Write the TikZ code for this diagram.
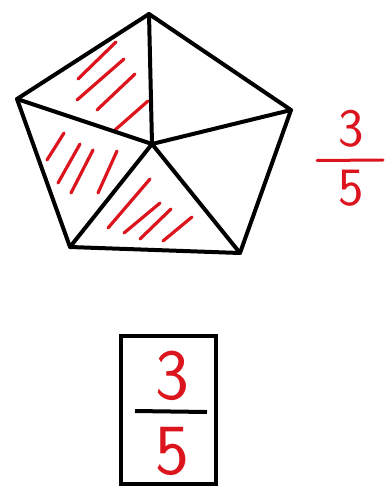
\documentclass[tikz,border=0pt]{standalone}
\usepackage{tikz}
\usetikzlibrary{positioning, calc}
\definecolor{penred}{RGB}{220, 20, 30}
\tikzset{
    edge/.style={line width=4pt, line join=round, line cap=round},
    hatch/.style={penred, line width=3.2pt, line cap=round},
    digit/.style={penred, font=\sffamily\fontsize{#1}{#1}\selectfont, inner sep=0pt}
}

\begin{document}
\begin{tikzpicture}[x=1pt, y=-1pt]
    \useasboundingbox (0,0) rectangle (390,489);

    % Pentagon corners and centre
    \coordinate (top) at (149,14);
    \coordinate (lft) at (17,99);
    \coordinate (rgt) at (291,110);
    \coordinate (bl) at (70,247);
    \coordinate (br) at (240,253);
    \coordinate (mid) at (152,144);

    % Red hatching in three of the five parts
    \foreach \a/\b/\c/\d in {78/79/116/42, 77/100/124/59, 97/110/135/74, 115/130/148/101,
                             47/160/64/133, 58/183/80/144, 71/193/93/150, 98/193/117/151,
                             108/228/150/179, 124/233/160/203, 140/239/171/209, 163/241/192/217} {
        \draw[hatch] (\a,\b) -- (\c,\d);
    }

    % Outline and spokes
    \draw[edge] (top) -- (rgt) -- (br) -- (bl) -- (lft) -- cycle;
    \foreach \p in {top, lft, rgt, bl, br} {
        \draw[edge] (mid) -- (\p);
    }

    % Fraction beside the pentagon
    \node[digit=54] (num) at (351,129) {3};
    \node[digit=54] (den) at (351,188) {5};
    \draw[penred, line width=3pt, line cap=round] (317,160.5) -- (383,160);

    % Boxed fraction
    \node[draw, line width=4pt, minimum width=95pt, minimum height=148pt] (box) at (168.5,410) {};
    \node[digit=72] (bnum) at (172,376) {3};
    \node[digit=72] (bden) at (172,451) {5};
    \draw[line width=4pt] (135,411) -- (207,412);
\end{tikzpicture}
\end{document}
